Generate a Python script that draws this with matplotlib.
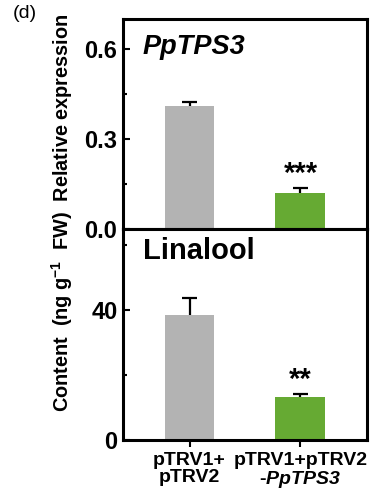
import numpy as np
import matplotlib
matplotlib.use('Agg')
import matplotlib.pyplot as plt
from matplotlib.ticker import MultipleLocator

plt.rcParams['font.family'] = ['Liberation Sans', 'DejaVu Sans']
plt.rcParams['font.weight'] = 'bold'
plt.rcParams['mathtext.fontset'] = 'custom'
plt.rcParams['mathtext.bf'] = 'Liberation Sans:bold'
plt.rcParams['mathtext.rm'] = 'Liberation Sans:bold:italic'
plt.rcParams['mathtext.it'] = 'Liberation Sans:bold:italic'

groups = ['pTRV1+\npTRV2', 'pTRV1+pTRV2\n-$\\mathit{PpTPS3}$']
expr_mean = [0.41, 0.121]
expr_err = [0.014, 0.017]
expr_sig = ['', '***']
lin_mean = [38.5, 13.1]
lin_err = [5.1, 1.0]
lin_sig = ['', '**']
colors = ['#b3b3b3', '#66aa33']

fig = plt.figure(figsize=(3.75, 4.95), dpi=100)
ax1 = fig.add_axes([123/375, 1-229/495, 244/375, 210/495])
ax2 = fig.add_axes([123/375, 1-440/495, 244/375, 211/495])

x = np.arange(len(groups))

def draw(ax, mean, err, sig, ylim, major, minor, fmt, title, tsize, tstyle, ty):
    ax.bar(x, mean, width=0.45, color=colors, zorder=2)
    top = np.array(mean) + np.array(err)
    ax.vlines(x, mean, top, color='black', lw=1.6, zorder=3)
    ax.hlines(top, x - 0.07, x + 0.07, color='black', lw=1.6, zorder=3)
    for xi, t, s in zip(x, top, sig):
        if s:
            ax.text(xi, t, s, ha='center', va='bottom',
                    fontsize=21, fontweight='bold')
    ax.set_xlim(-0.6, 1.6)
    ax.set_ylim(*ylim)
    ax.yaxis.set_major_locator(MultipleLocator(major))
    ax.yaxis.set_minor_locator(MultipleLocator(minor))
    ax.yaxis.set_major_formatter(fmt)
    ax.tick_params(axis='y', which='both', direction='in', width=1.5,
                   labelsize=17, pad=4)
    ax.tick_params(axis='y', which='major', length=5)
    ax.tick_params(axis='y', which='minor', length=3)
    ax.tick_params(axis='x', direction='out', length=5, width=1.5)
    for sp in ax.spines.values():
        sp.set_linewidth(2.2)
    ax.text(0.08, ty, title, transform=ax.transAxes, ha='left', va='top',
            fontsize=tsize, fontweight='bold', style=tstyle)

draw(ax1, expr_mean, expr_err, expr_sig, (0, 0.7), 0.3, 0.15, '{x:.1f}',
     'PpTPS3', 19.5, 'italic', 0.93)
ax1.set_xticks(x)
ax1.tick_params(axis='x', length=0, labelbottom=False)

draw(ax2, lin_mean, lin_err, lin_sig, (0, 65), 40, 20, '{x:.0f}',
     'Linalool', 21, 'normal', 0.96)
ax2.set_xticks(x)
ax2.set_xticklabels(groups, fontsize=14, fontweight='bold', linespacing=1.0)

fig.text(62/375, 1-213/495,
         'Content  (ng g$^{\\mathbf{-1}}$  FW)  Relative expression',
         rotation=90, ha='center', va='center', fontsize=14.3, fontweight='bold')
fig.text(13/375, 1-14/495, '(d)', ha='left', va='center', fontsize=14,
         fontweight='normal')

fig.savefig('out.png', dpi=100)
